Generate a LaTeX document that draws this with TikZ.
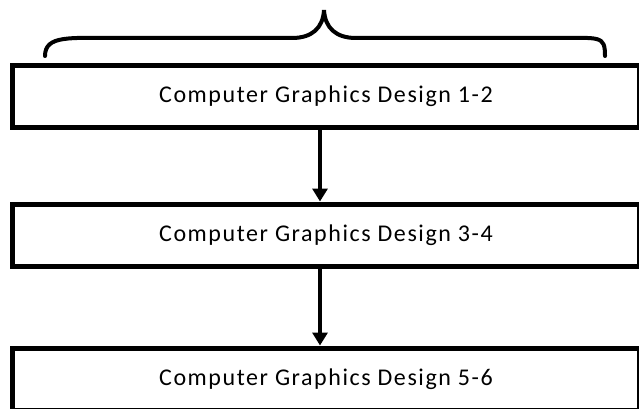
\documentclass[tikz,border=0pt]{standalone}
\usepackage{fontspec}
\setmainfont{Carlito}
\usetikzlibrary{positioning,arrows.meta}

\begin{document}
\begin{tikzpicture}[x=1pt, y=1pt, node distance=139pt]
    \tikzset{
        cgbox/.style = {rectangle, line width=5pt, minimum width=627pt, minimum height=62pt, text centered, draw=black, fill=white,
                        font=\fontsize{24}{28}\selectfont\addfontfeatures{LetterSpace=6.5}},
        arrow/.style = {line width=4pt, -{Triangle[width=15pt,length=13pt]}},
        bracestyle/.style = {line width=4pt, line cap=round},
    }
    \useasboundingbox (0,0) rectangle (639,408);
    \clip (0,0) rectangle (639,408);
    \fill[white] (0,0) rectangle (639,408);

    \node (cg12) [cgbox] at (326,312) {Computer Graphics Design 1-2};
    \node (cg34) [cgbox, below of=cg12] {Computer Graphics Design 3-4};
    \node (cg56) [cgbox, below of=cg34, yshift=-5pt] {Computer Graphics Design 5-6};

    \draw [arrow] ([xshift=-6pt]cg12.south) -- ([xshift=-6pt]cg34.north);
    \draw [arrow] ([xshift=-6pt]cg34.south) -- ([xshift=-6pt]cg56.north);

    % brace over the first course
    \draw [bracestyle] (45,352) .. controls (45,373) and (70,370) .. (115,370) -- (292,370)
        .. controls (312,370) and (323,380) .. (324,398)
        .. controls (325,380) and (336,370) .. (356,370) -- (555,370)
        .. controls (600,370) and (605,373) .. (605,352);
\end{tikzpicture}
\end{document}
